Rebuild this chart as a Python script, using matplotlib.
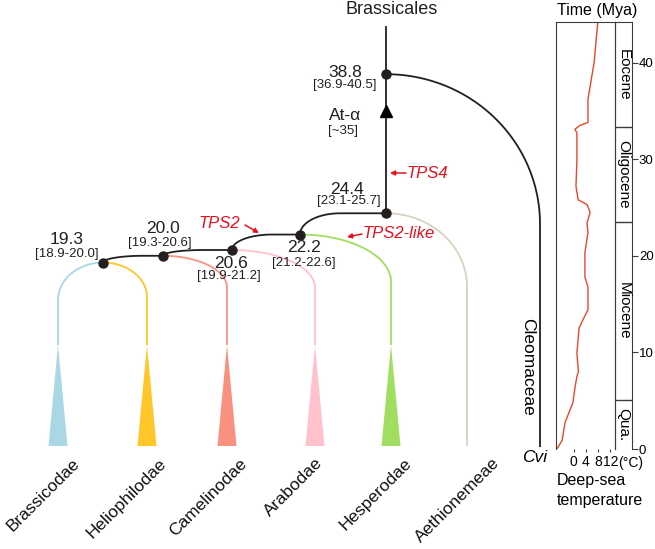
import numpy as np
import matplotlib.pyplot as plt
from matplotlib.patches import Polygon

plt.rcParams['font.family'] = ['Liberation Sans', 'DejaVu Sans']

# divergence times (Mya) and their intervals
node_ages = [38.8, 24.4, 22.2, 20.6, 20.0, 19.3]
node_hpd = ['[36.9-40.5]', '[23.1-25.7]', '[21.2-22.6]',
            '[19.9-21.2]', '[19.3-20.6]', '[18.9-20.0]']
wgd_age = 35
clades = ['Brassicodae', 'Heliophilodae', 'Camelinodae',
          'Arabodae', 'Hesperodae', 'Aethionemeae']
outgroup = 'Cleomaceae'

# deep-sea temperature
temp_time = [44.2, 40.0, 36.2, 33.8, 33.5, 33.1, 32.7, 29.9, 27.2, 25.8,
             25.3, 24.5, 23.4, 22.4, 20.3, 17.8, 16.8, 14.4, 13.4, 12.5,
             9.9, 8.0, 7.5, 6.4, 4.8, 2.7, 0.9, 0.0]
temp_c = [7.9, 6.7, 4.7, 4.7, 2.1, 0.5, 1.1, 1.1, 0.8, 1.5,
          4.4, 5.4, 4.4, 4.7, 3.7, 3.7, 4.7, 4.7, 3.1, 1.8,
          1.1, 1.6, 1.1, 0.5, -0.2, -2.8, -3.7, -5.4]

epoch_names = ['Qua.', 'Miocene', 'Oligocene', 'Eocene']
epoch_edges = [0, 5.1, 23.5, 33.3, 44.2]

# ---- layout (pixels) ----
PX = 9.66          # pixels per Myr
def ty(ypix):
    return (449 - ypix) / PX

node_x = [386, 386, 300, 232, 163, 103]
tip_x = [58, 147, 227, 315, 391, 467]
tip_parent = [5, 5, 4, 3, 2, 1]
tip_ry = [3.9, 3.6, 3.3, 3.9, 4.9, 7.6]
clade_colors = ['#a9d7e4', '#ffc62a', '#fa9180', '#ffc1cc', '#a0de5f', '#d8d2c2']
label_end_x = [80, 167, 248, 323, 412, 500]
cleo_x = 540
dark = '#231f20'
red = '#e8101e'

# label offsets relative to node (number, interval), pixels
num_off = [(-41, -2), (-39, -24), (4, 13), (-1, 13), (0, -27), (-36, -23)]
hpd_off = [(-41, 11), (-37, -12), (4, 28), (-3, 26), (-3, -13), (-36, -9)]

fig = plt.figure(figsize=(6.55, 5.49), dpi=100)
ax = fig.add_axes([0, 0, 1, 1])
ax.set_xlim(0, 655)
ax.set_ylim(ty(549), ty(0))
ax.axis('off')

s = np.linspace(0, np.pi / 2, 60)

def down_arc(x0, t0, x1, ry, t_end, color):
    xs = x0 + (x1 - x0) * np.sin(s)
    ts = (t0 - ry) + ry * np.cos(s)
    xs = np.append(xs, x1)
    ts = np.append(ts, t_end)
    ax.plot(xs, ts, color=color, lw=1.3, solid_capstyle='butt', zorder=2)

def up_arc(xc, tc, xp, tp, rx, color):
    xs = xc + rx * (1 - np.cos(s))
    ts = tc + (tp - tc) * np.sin(s)
    xs = np.append(xs, xp)
    ts = np.append(ts, tp)
    ax.plot(xs, ts, color=color, lw=1.3, zorder=3)

apex_t = ty(345)
base_t = ty(446)

# clades
for i, name in enumerate(clades):
    p = tip_parent[i]
    end_t = apex_t if i < 5 else 0.3
    down_arc(node_x[p], node_ages[p], tip_x[i], tip_ry[i], end_t, clade_colors[i])
    if i < 5:
        tri = Polygon([(tip_x[i] - 9.5, base_t), (tip_x[i] + 9.5, base_t),
                       (tip_x[i], apex_t)], closed=True,
                      facecolor=clade_colors[i], edgecolor='none', zorder=2)
        ax.add_patch(tri)
    ax.text(label_end_x[i], ty(464), name, rotation=45, rotation_mode='anchor',
            ha='right', va='baseline', fontsize=12.5, color='#111111')

# backbone connectors
for c, p in [(5, 4), (4, 3), (3, 2), (2, 1)]:
    up_arc(node_x[c], node_ages[c], node_x[p], node_ages[p], 40, dark)

# stem and outgroup
ax.plot([node_x[0], node_x[0]], [ty(27), node_ages[1]], color=dark, lw=1.3, zorder=3)
down_arc(node_x[0], node_ages[0], cleo_x, 15.5, 0.2, dark)
ax.plot(node_x, node_ages, 'o', color=dark, ms=6.5, zorder=5)
ax.plot(node_x[0], wgd_age, '^', color='black', ms=9, zorder=5)

# node labels
for i, age in enumerate(node_ages):
    ax.text(node_x[i] + num_off[i][0], age - num_off[i][1] / PX, f'{age:.1f}',
            ha='center', va='center', fontsize=12.5, color='#231f20')
    ax.text(node_x[i] + hpd_off[i][0], age - hpd_off[i][1] / PX, node_hpd[i],
            ha='center', va='center', fontsize=9.5, color='#231f20')

ax.text(345, ty(115), 'At-α', ha='center', va='center', fontsize=12.5, color='#231f20')
ax.text(343, ty(131), f'[~{wgd_age}]', ha='center', va='center', fontsize=9.5, color='#231f20')
ax.text(392, ty(10), 'Brassicales', ha='center', va='center', fontsize=13, color='#231f20')
ax.text(535, ty(458), 'Cvi', ha='center', va='center', fontsize=12.5, style='italic')
ax.text(528, ty(367), outgroup, ha='center', va='center', fontsize=12.5, rotation=270)

# gene annotations
arrow = dict(arrowstyle='-|>', color=red, lw=1.1, mutation_scale=7, shrinkA=0, shrinkB=0)
ax.annotate('', xy=(259, ty(233)), xytext=(245, ty(225)), arrowprops=arrow)
ax.text(219, ty(223), 'TPS2', ha='center', va='center', fontsize=12, color=red, style='italic')
ax.annotate('', xy=(390, ty(173)), xytext=(406, ty(173)), arrowprops=arrow)
ax.text(407, ty(173), 'TPS4', ha='left', va='center', fontsize=12, color=red, style='italic')
ax.annotate('', xy=(347, ty(237)), xytext=(362, ty(234)), arrowprops=arrow)
ax.text(362, ty(233), 'TPS2-like', ha='left', va='center', fontsize=12, color=red, style='italic')

# temperature panel
edge = '#3c3c3c'
y0 = 100 / 549
h = 427 / 549
tax = fig.add_axes([556 / 655, y0, 59 / 655, h], facecolor='none')
tax.plot(temp_c, temp_time, color='#e8472b', lw=1)
tax.set_xlim(-5.7, 13.5)
tax.set_ylim(0, 44.2)
tax.spines['bottom'].set_visible(False)
for sp in ['left', 'top', 'right']:
    tax.spines[sp].set_color(edge)
tax.set_yticks([])
tax.set_xticks([0, 4, 8, 12])
tax.set_xticklabels(['0', '4', '8', '12'])
tax.tick_params(axis='x', length=2, pad=2, labelsize=10, color=edge)

eax = fig.add_axes([615 / 655, y0, 17 / 655, h], facecolor='none')
eax.set_xlim(0, 1)
eax.set_ylim(0, 44.2)
eax.spines['bottom'].set_visible(False)
for sp in ['left', 'top', 'right']:
    eax.spines[sp].set_color(edge)
eax.set_xticks([])
eax.yaxis.tick_right()
eax.set_yticks([0, 10, 20, 30, 40])
eax.tick_params(axis='y', length=4, pad=1, labelsize=9.5, color=edge)
for b in epoch_edges[1:-1]:
    eax.axhline(b, color=edge, lw=1)
for k, name in enumerate(epoch_names):
    eax.text(0.5, (epoch_edges[k] + epoch_edges[k + 1]) / 2, name, rotation=270,
             ha='center', va='center', fontsize=11)

ax.text(597, ty(10), 'Time (Mya)', ha='center', va='center', fontsize=11.5)
ax.text(631, ty(463), '(°C)', ha='center', va='center', fontsize=10)
ax.text(557, ty(480), 'Deep-sea', ha='left', va='center', fontsize=11.5)
ax.text(557, ty(500), 'temperature', ha='left', va='center', fontsize=11.5)

fig.savefig('out.png', dpi=100)
